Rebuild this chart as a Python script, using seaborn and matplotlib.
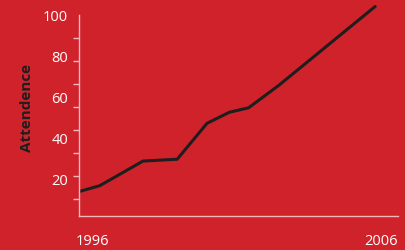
import numpy as np
import pandas as pd
import matplotlib
matplotlib.use("Agg")
import matplotlib.pyplot as plt
import seaborn as sns

# ----------------------------------------------------------
# Data
# ----------------------------------------------------------
years = [1996.0, 1996.7, 1998.15, 1999.3, 2000.3, 2001.05, 2001.7, 2002.7, 2005.95]
attendance = [13.7, 16.6, 28.6, 29.5, 47.0, 52.4, 54.6, 65.4, 104.0]

y_labels = [20, 40, 60, 80, 100]
y_minor = [10, 21.25, 32.5, 43.75, 55, 66.25, 77.5, 88.75, 100]
x_label_pos = [1996.45, 2006.15]
x_labels = ["1996", "2006"]

df = pd.DataFrame({"Year": years, "Attendence": attendance})

# ----------------------------------------------------------
# Style
# ----------------------------------------------------------
red = "#D0222B"
spine_col = "#F2B8BB"

sns.set_style("white")
plt.rcParams["font.family"] = ["Open Sans", "DejaVu Sans"]

fig = plt.figure(figsize=(4.05, 2.51), dpi=100)
fig.patch.set_facecolor(red)
ax = fig.add_axes([79 / 405, 34 / 251, 318.5 / 405, 217.7 / 251])
ax.set_facecolor(red)

sns.lineplot(data=df, x="Year", y="Attendence", color="#1E1E1E",
             linewidth=2.2, ax=ax)

ax.set_xlim(1996, 2006.7)
ax.set_ylim(1.8, 108)

# spines
for s in ["top", "right"]:
    ax.spines[s].set_visible(False)
for s in ["left", "bottom"]:
    ax.spines[s].set_color(spine_col)
    ax.spines[s].set_linewidth(1.0)
ax.spines["left"].set_bounds(1.8, 100)
ax.spines["bottom"].set_bounds(1996, 2006.7)

# y ticks: labels without marks, minor marks without labels
ax.set_yticks(y_labels)
ax.set_yticklabels([str(v) for v in y_labels])
ax.set_yticks(y_minor, minor=True)
ax.tick_params(axis="y", which="major", left=True, length=0, pad=8,
               labelsize=10.5, labelcolor="white")
ax.tick_params(axis="y", which="minor", left=True, length=4, width=1,
               color=spine_col, direction="out")

ax.set_xticks(x_label_pos)
ax.set_xticklabels(x_labels)
ax.tick_params(axis="x", which="both", length=0, pad=12,
               labelsize=10.5, labelcolor="white")

ax.set_xlabel("")
ax.set_ylabel("Attendence", fontsize=11, fontweight="bold",
              color="#1E1E1E", labelpad=6)

fig.savefig("out.png", dpi=100, facecolor=red)
